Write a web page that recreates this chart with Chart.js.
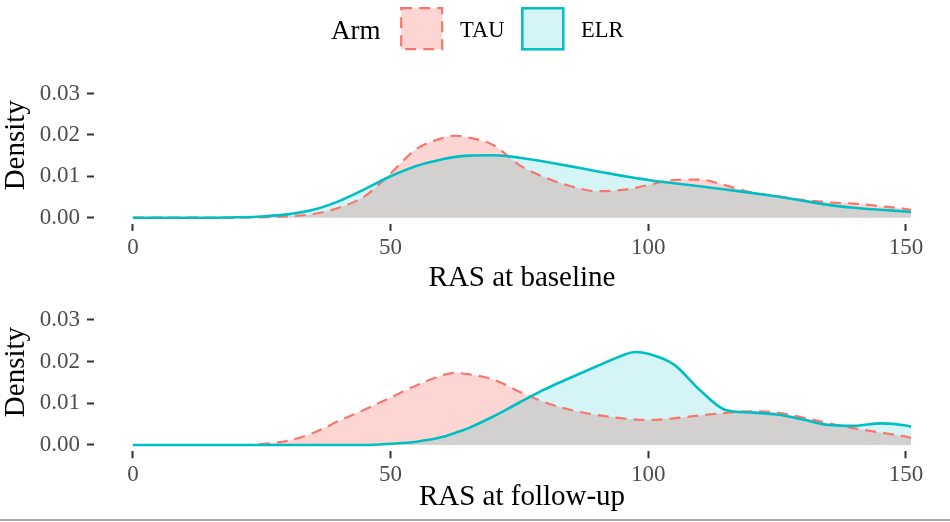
<!DOCTYPE html>
<html><head><meta charset="utf-8">
<script src="https://cdn.jsdelivr.net/npm/chart.js@4.4.1/dist/chart.umd.min.js"></script>
<style>
html,body{margin:0;padding:0;background:#fff;}
body{width:950px;height:522px;position:relative;overflow:hidden;font-family:'Liberation Serif','Times New Roman',serif;}
canvas{position:absolute;left:0;top:0;}
.lg{position:absolute;top:12px;height:36px;line-height:36px;white-space:nowrap;color:#000;}
</style></head><body>
<canvas id="c1" width="950" height="522"></canvas>
<canvas id="c2" width="950" height="522"></canvas>
<div class="lg" style="left:331px;font-size:27px;">Arm</div>
<svg style="position:absolute;left:400px;top:7px" width="44" height="44"><rect x="1.2" y="1.2" width="41" height="41" fill="rgba(248,118,109,0.3)" stroke="#F8766D" stroke-width="2.2" stroke-dasharray="11 7"/></svg>
<div class="lg" style="left:460px;font-size:22.5px;">TAU</div>
<svg style="position:absolute;left:521px;top:7px" width="44" height="44"><rect x="1.3" y="1.3" width="41" height="41" fill="rgba(0,191,196,0.17)" stroke="#00BFC4" stroke-width="2.5"/></svg>
<div class="lg" style="left:581px;font-size:22.5px;">ELR</div>
<div style="position:absolute;left:0;top:518.5px;width:950px;height:2px;background:#a8a8a8"></div>
<script>
// RAS grid (x values)
const xs = [0,5,10,15,20,25,30,35,40,45,50,55,60,62.5,65,70,75,80,85,90,95,97.5,100,105,110,115,120,125,130,135,140,145,150,151];
// Baseline densities
const tauBaseline = [0,0,0,0,0,0.0001,0.0003,0.0009,0.0024,0.0052,0.0107,0.0166,0.0192,0.0198,0.0194,0.0175,0.0127,0.0097,0.0076,0.0064,0.0067,0.0072,0.0079,0.0091,0.0092,0.0078,0.0061,0.0052,0.0043,0.0037,0.0034,0.0028,0.0021,0.0019];
const elrBaseline = [0,0,0,0,0.0001,0.0003,0.0008,0.0019,0.0040,0.0069,0.0100,0.0125,0.0141,0.0147,0.0150,0.0151,0.0145,0.0135,0.0124,0.0112,0.0101,0.0096,0.0091,0.0083,0.0076,0.0068,0.0060,0.0051,0.0041,0.0031,0.0024,0.0019,0.0015,0.0014];
// Follow-up densities
const tauFollow = [0,0,0,0,0,0.0002,0.0010,0.0029,0.0058,0.0085,0.0114,0.0143,0.0167,0.0173,0.0170,0.0157,0.0128,0.0102,0.0084,0.0072,0.0064,0.0061,0.0060,0.0064,0.0071,0.0077,0.0081,0.0078,0.0066,0.0052,0.0040,0.0030,0.0020,0.0017];
const elrFollow = [0,0,0,0,0,0,0,0,0,0,0.0003,0.0008,0.0019,0.0029,0.0040,0.0069,0.0102,0.0134,0.0162,0.0189,0.0215,0.0223,0.0219,0.0193,0.0132,0.0084,0.0078,0.0073,0.0061,0.0048,0.0046,0.0052,0.0047,0.0044];
const xTicks = [0,50,100,150];
const yTicks = [0,0.01,0.02,0.03];
const yLabels = ['0.00','0.01','0.02','0.03'];

const FONT = "'Liberation Serif','Times New Roman',serif";
function cfg(T, E, xTitle, L) {
  const pts = a => xs.map((x,i)=>({x:x, y:a[i]}));
  return {
    type:'line',
    data:{datasets:[
      {label:'ELR', data:pts(E), borderColor:'#00BFC4', backgroundColor:'rgba(0,191,196,0.17)', borderWidth:2.6, fill:'origin', pointRadius:0, cubicInterpolationMode:'monotone'},
      {label:'TAU', data:pts(T), borderColor:'#F8766D', backgroundColor:'rgba(248,118,109,0.3)', borderWidth:2.2, borderDash:[11,7], fill:'origin', pointRadius:0, cubicInterpolationMode:'monotone'}
    ]},
    options:{
      responsive:false, animation:false, events:[],
      layout:{padding:{top:L.top, bottom:L.bottom, left:0, right:0}},
      plugins:{legend:{display:false}, tooltip:{enabled:false}, filler:{drawTime:'beforeDatasetsDraw'}},
      scales:{
        x:{type:'linear', min:-7.55, max:158.55,
          afterBuildTicks: s=>{ s.ticks = xTicks.map(v=>({value:v})); },
          afterFit: s=>{ s.height = L.xh; },
          grid:{drawOnChartArea:false, drawTicks:true, tickLength:7, tickColor:'#333333', tickWidth:2},
          border:{display:false},
          ticks:{font:{family:FONT,size:23}, color:'#4D4D4D', padding:3, maxRotation:0, autoSkip:false},
          title:{display:true, text:xTitle, font:{family:FONT,size:29,lineHeight:1.1}, color:'#000', padding:{top:0,bottom:L.tpb}}
        },
        y:{type:'linear', min:-0.0015, max:0.0365,
          afterBuildTicks: s=>{ s.ticks = yTicks.map(v=>({value:v})); },
          afterFit: s=>{ s.width = 94; },
          grid:{drawOnChartArea:false, drawTicks:true, tickLength:7, tickColor:'#333333', tickWidth:2},
          border:{display:false},
          ticks:{font:{family:FONT,size:23}, color:'#4D4D4D', padding:7, callback:(v)=>{ const i=yTicks.indexOf(v); return i>=0?yLabels[i]:''; }},
          title:{display:true, text:'Density', font:{family:FONT,size:29,lineHeight:1.1}, color:'#000', padding:{top:0,bottom:0}}
        }
      }
    }
  };
}
new Chart(document.getElementById('c1'), cfg(tauBaseline, elrBaseline, 'RAS at baseline', {top:66.6, bottom:222, xh:76.1, tpb:6}));
new Chart(document.getElementById('c2'), cfg(tauFollow, elrFollow, 'RAS at follow-up', {top:292.9, bottom:0, xh:70.75, tpb:8.5}));
</script>
</body></html>
